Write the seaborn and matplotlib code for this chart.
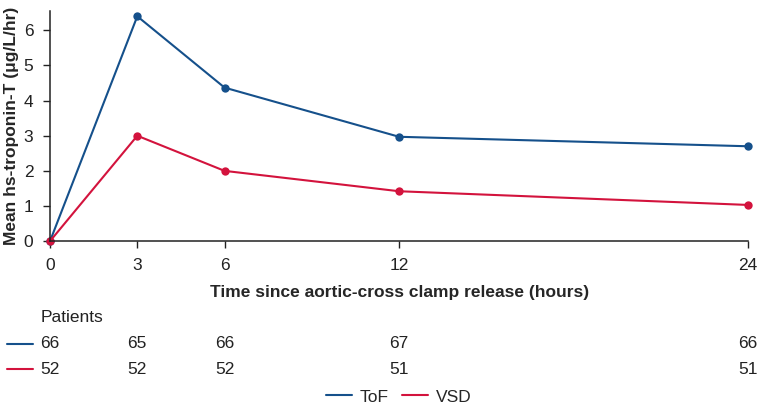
import pandas as pd
import seaborn as sns
from matplotlib import pyplot as plt
from matplotlib.lines import Line2D
from matplotlib.transforms import blended_transform_factory

hours = [0, 3, 6, 12, 24]
tof_values = [0, 6.4, 4.37, 2.97, 2.70]
vsd_values = [0, 3.0, 2.0, 1.42, 1.03]
tof_patients = [66, 65, 66, 67, 66]
vsd_patients = [52, 52, 52, 51, 51]
groups = ['ToF', 'VSD']
colors = {'ToF': '#15508b', 'VSD': '#d3133d'}

sns.set_style("ticks")
plt.rcParams['font.family'] = ['Liberation Sans', 'DejaVu Sans']

data = pd.concat([
    pd.DataFrame({'hours': hours, 'value': tof_values, 'group': 'ToF'}),
    pd.DataFrame({'hours': hours, 'value': vsd_values, 'group': 'VSD'}),
])

fs = 12.5
fig = plt.figure(figsize=(7.58, 4.08), dpi=100)
ax = fig.add_axes([0.066, 0.409, 0.921, 0.564])
sns.lineplot(data=data, x='hours', y='value', hue='group', palette=colors,
             marker='o', markersize=6, markeredgewidth=0, linewidth=1.5,
             ax=ax, legend=False)
ax.set_zorder(3)
for line in ax.lines:
    line.set_clip_on(False)

ax.set_xlim(0, 24)
ax.set_ylim(0, 6.55)
ax.set_xticks(hours)
ax.set_yticks(range(0, 7))
ax.tick_params(labelsize=fs, length=5, width=1, color='#222222', labelcolor='#222222')
ax.tick_params(axis='x', pad=7)
ax.tick_params(axis='y', pad=7)
sns.despine(ax=ax)
for sp in ['left', 'bottom']:
    ax.spines[sp].set_linewidth(1.1)
    ax.spines[sp].set_color('#222222')
ax.set_xlabel('Time since aortic-cross clamp release (hours)', fontsize=fs,
              fontweight='bold', labelpad=9)
ax.set_ylabel('Mean hs-troponin-T (μg/L/hr)', fontsize=fs, fontweight='bold',
              labelpad=3)

# patients at risk table
trans = blended_transform_factory(ax.transData, fig.transFigure)
fig.text(41 / 758, 1 - 318 / 408, 'Patients', fontsize=fs, color='#222222', va='center')
for row_y, grp, counts in [(344, 'ToF', tof_patients), (369, 'VSD', vsd_patients)]:
    yf = 1 - row_y / 408
    fig.add_artist(Line2D([7 / 758, 33 / 758], [yf, yf], color=colors[grp], lw=1.5))
    for h, c in zip(hours, counts):
        ax.text(h, yf, str(c), transform=trans, ha='center', va='center',
                fontsize=fs, color='#222222')

handles = [Line2D([], [], color=colors[g], lw=1.5) for g in groups]
fig.legend(handles, groups, loc='center', bbox_to_anchor=(0.526, 1 - 397 / 408),
           ncol=2, frameon=False, fontsize=fs, handlelength=1.5,
           columnspacing=0.8, handletextpad=0.45, borderpad=0)

fig.savefig('out.png', dpi=100)
